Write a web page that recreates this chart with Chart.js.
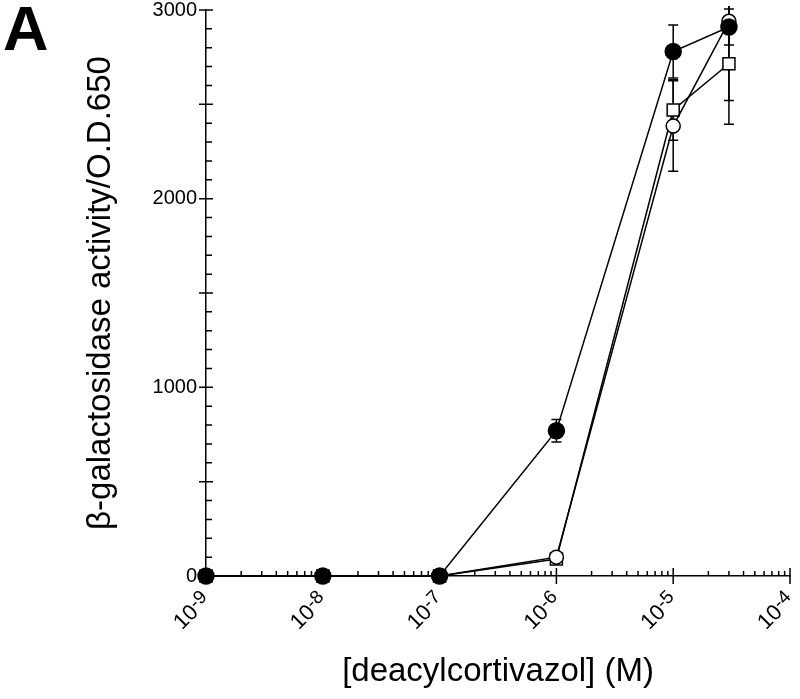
<!DOCTYPE html>
<html>
<head>
<meta charset="utf-8">
<script src="https://cdn.jsdelivr.net/npm/chart.js@4"></script>
<style>
  body { margin: 0; background: #fff; }
  #wrap { position: relative; width: 800px; height: 699px; }
</style>
</head>
<body>
<div id="wrap"><canvas id="doseChart" width="800" height="699"></canvas></div>
<script>
// concentrations (M)
const concentrations = [1e-9, 1e-8, 1e-7, 1e-6, 1e-5, 3e-5];

// beta-galactosidase activity / OD650
const filledCircle = [0, 0, 0, 770, 2780, 2910];
const filledCircleErr = [0, 0, 0, 60, 140, 95];
const openCircle = [0, 0, 0, 100, 2385, 2940];
const openCircleErr = [0, 0, 0, 0, 240, 420];
const openSquare = [0, 0, 0, 90, 2470, 2715];
const openSquareErr = [0, 0, 0, 0, 160, 320];

const xDecades = [1e-9, 1e-8, 1e-7, 1e-6, 1e-5, 1e-4];
const yLabels = [0, 1000, 2000, 3000];

const FONT = '"Liberation Sans", Arial, Helvetica, sans-serif';

function toPoints(ys) {
    return concentrations.map((x, i) => ({x: x, y: ys[i]}));
}

// error bars, drawn under the markers
const errorBars = {
    id: 'errorBars',
    beforeDatasetsDraw(chart) {
        const ctx = chart.ctx;
        const xs = chart.scales.x, ys = chart.scales.y;
        const area = chart.chartArea;
        ctx.save();
        ctx.beginPath();
        ctx.rect(area.left - 10, area.top - 4, area.right - area.left + 20, area.bottom - area.top + 14);
        ctx.clip();
        ctx.strokeStyle = '#000';
        ctx.lineWidth = 1.5;
        const sets = [[filledCircle, filledCircleErr], [openCircle, openCircleErr], [openSquare, openSquareErr]];
        sets.forEach(([vals, errs]) => {
            vals.forEach((v, i) => {
                if (!errs[i]) return;
                const px = xs.getPixelForValue(concentrations[i]);
                const top = ys.getPixelForValue(v + errs[i]);
                const bot = ys.getPixelForValue(v - errs[i]);
                ctx.beginPath();
                ctx.moveTo(px, top); ctx.lineTo(px, bot);
                ctx.moveTo(px - 5, top); ctx.lineTo(px + 5, top);
                ctx.moveTo(px - 5, bot); ctx.lineTo(px + 5, bot);
                ctx.stroke();
            });
        });
        ctx.restore();
    }
};

// axis ticks (inside minor, crossing major), rotated x labels and panel letter
const axisDecor = {
    id: 'axisDecor',
    afterDraw(chart) {
        const ctx = chart.ctx;
        const xs = chart.scales.x, ys = chart.scales.y;
        const left = chart.chartArea.left, bottom = chart.chartArea.bottom;
        ctx.save();
        ctx.strokeStyle = '#000';
        ctx.lineWidth = 1.5;
        ctx.beginPath();
        for (let v = 0; v <= 3000; v += 100) {
            const py = ys.getPixelForValue(v);
            if (v % 500 === 0) { ctx.moveTo(left - 7, py); ctx.lineTo(left + 7, py); }
            else { ctx.moveTo(left, py); ctx.lineTo(left + 6, py); }
        }
        xDecades.forEach((d, k) => {
            const px = xs.getPixelForValue(d);
            ctx.moveTo(px, bottom - 8); ctx.lineTo(px, bottom + 8);
            if (k < xDecades.length - 1) {
                for (let m = 2; m <= 9; m++) {
                    const mx = xs.getPixelForValue(d * m);
                    ctx.moveTo(mx, bottom); ctx.lineTo(mx, bottom - 5);
                }
            }
        });
        ctx.stroke();

        // x tick labels, 10 with raised exponent, rotated 45 degrees
        ctx.fillStyle = '#000';
        xDecades.forEach(d => {
            const px = xs.getPixelForValue(d);
            const exp = String(Math.round(Math.log10(d)));
            ctx.save();
            ctx.translate(px + 1, bottom + 21);
            ctx.rotate(-Math.PI / 4);
            ctx.textBaseline = 'middle';
            ctx.textAlign = 'right';
            ctx.font = '19px ' + FONT;
            const ew = ctx.measureText(exp).width;
            ctx.fillText(exp, 0, -4);
            ctx.font = '22px ' + FONT;
            ctx.fillText('10', -ew, 0);
            ctx.restore();
        });

        ctx.font = 'bold 63px ' + FONT;
        ctx.textAlign = 'left';
        ctx.textBaseline = 'alphabetic';
        ctx.fillText('A', 3, 50);
        ctx.restore();
    }
};

const ctx1 = document.getElementById('doseChart').getContext('2d');

const doseChart = new Chart(ctx1, {
    type: 'line',
    data: {
        datasets: [{
            label: 'filled circles',
            data: toPoints(filledCircle),
            borderColor: '#000',
            borderWidth: 1.5,
            pointStyle: 'circle',
            pointRadius: 8,
            pointBackgroundColor: '#000',
            pointBorderColor: '#000',
            clip: false
        }, {
            label: 'open circles',
            data: toPoints(openCircle),
            borderColor: '#000',
            borderWidth: 1.5,
            pointStyle: 'circle',
            pointRadius: 7,
            pointBorderWidth: 1.5,
            pointBackgroundColor: '#fff',
            pointBorderColor: '#000',
            clip: false
        }, {
            label: 'open squares',
            data: toPoints(openSquare),
            borderColor: '#000',
            borderWidth: 1.5,
            pointStyle: 'rect',
            pointRadius: 8.5,
            pointBorderWidth: 1.5,
            pointBackgroundColor: '#fff',
            pointBorderColor: '#000',
            clip: false
        }]
    },
    options: {
        responsive: false,
        animation: false,
        layout: {
            padding: {left: 77, top: 8, right: 7, bottom: 0}
        },
        plugins: {
            legend: {display: false},
            tooltip: {enabled: false}
        },
        scales: {
            x: {
                type: 'logarithmic',
                position: 'bottom',
                min: 1e-9,
                max: 1e-4,
                afterFit: function(scale) {
                    scale.height = 123;
                    scale.paddingLeft = 0;
                    scale.paddingRight = 0;
                },
                ticks: {display: false},
                grid: {drawOnChartArea: false, drawTicks: false},
                border: {color: '#000', width: 1.5},
                title: {
                    display: true,
                    text: '[deacylcortivazol] (M)',
                    color: '#000',
                    font: {family: FONT, size: 33},
                    padding: {top: 0, bottom: 7}
                }
            },
            y: {
                type: 'linear',
                min: 0,
                max: 3000,
                afterBuildTicks: function(scale) {
                    scale.ticks = yLabels.map(v => ({value: v}));
                },
                afterFit: function(scale) {
                    scale.width = 129;
                    scale.paddingTop = 0;
                    scale.paddingBottom = 0;
                },
                ticks: {
                    color: '#000',
                    padding: 9,
                    font: {family: FONT, size: 20},
                    callback: function(value) { return String(value); }
                },
                grid: {drawOnChartArea: false, drawTicks: false},
                border: {color: '#000', width: 1.5},
                title: {
                    display: true,
                    text: 'β-galactosidase activity/O.D.650',
                    color: '#000',
                    font: {family: FONT, size: 33},
                    padding: {top: 4, bottom: 0}
                }
            }
        }
    },
    plugins: [errorBars, axisDecor]
});
</script>
</body>
</html>
